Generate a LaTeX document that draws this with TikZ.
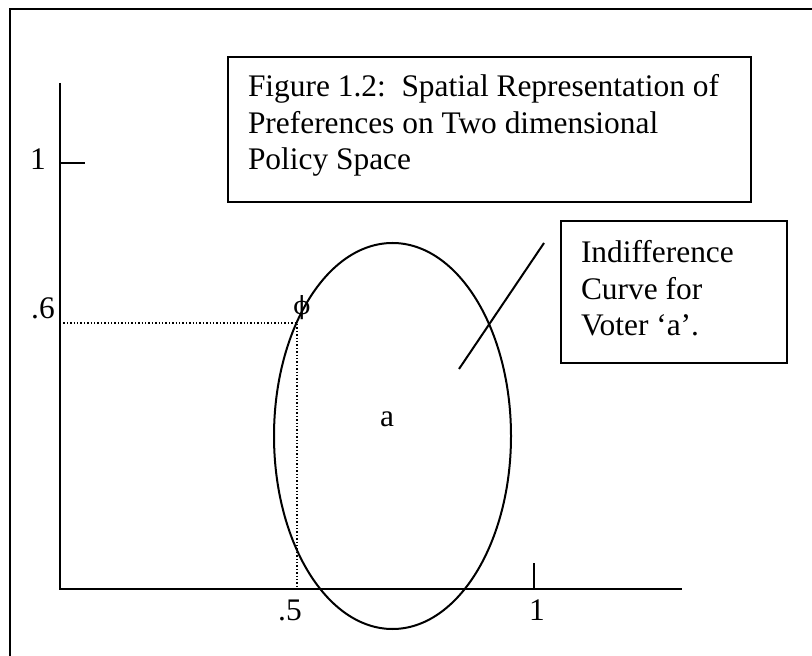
\documentclass[tikz,border=0pt]{standalone}
\usepackage{fontspec}
\setmainfont{Liberation Serif}
\newfontfamily\phifont{DejaVu Serif}
\begin{document}
\begin{tikzpicture}[x=0.5pt,y=-0.5pt,line width=1pt,
  lbl/.style={font=\fontsize{15.7}{18.4}\selectfont,inner sep=0pt},
  txt/.style={font=\fontsize{15.7}{18.4}\selectfont,inner sep=0pt,align=left,anchor=base west},
  guide/.style={densely dotted,line width=0.7pt}]
\useasboundingbox (0,0) rectangle (812,656);
% outer frame
\draw[line width=1.1pt] (10,656) -- (10,9) -- (812,9);
% axes
\coordinate (ytop) at (60,83);
\coordinate (orig) at (60,589);
\coordinate (xend) at (682,589);
\draw (ytop) -- (orig) -- (xend);
% ticks
\coordinate (yt1) at (60,163);
\coordinate (yt2) at (85,163);
\coordinate (xt1) at (534,589);
\coordinate (xt2) at (534,563);
\draw (yt1) -- (yt2);
\draw (xt1) -- (xt2);
% tick labels
\node[lbl,anchor=base] (ly1) at (38,170) {1};
\node[lbl,anchor=base] (ly6) at (43,319) {.6};
\node[lbl,anchor=base] (lx5) at (290,620) {.5};
\node[lbl,anchor=base] (lx1) at (537,620) {1};
% indifference curve
\draw (392.5,436) ellipse [x radius=59.25pt,y radius=96.5pt];
\node[lbl,anchor=base] (a) at (387,427) {a};
% point phi and guides
\coordinate (phi) at (297,323);
\coordinate (phix) at (297,589);
\coordinate (phiy) at (60,323);
\draw[guide] (phiy) -- (phi) -- (phix);
\node[inner sep=0pt,anchor=base,font=\phifont\fontsize{12.5}{14}\selectfont] (phil) at (302,315) {\symbol{"03D5}};
% leader line
\coordinate (lead1) at (459,369);
\coordinate (lead2) at (544,243);
\draw (lead1) -- (lead2);
% title box
\draw (228,57) rectangle (751,202);
\node[txt] (title) at (247,170) {Figure 1.2:\ \ Spatial Representation of\\Preferences on Two dimensional\\Policy Space};
% label box
\draw (561,221) rectangle (787,363);
\node[txt] (ind) at (580,336) {Indifference\\Curve for\\Voter `a'.};
\end{tikzpicture}
\end{document}
